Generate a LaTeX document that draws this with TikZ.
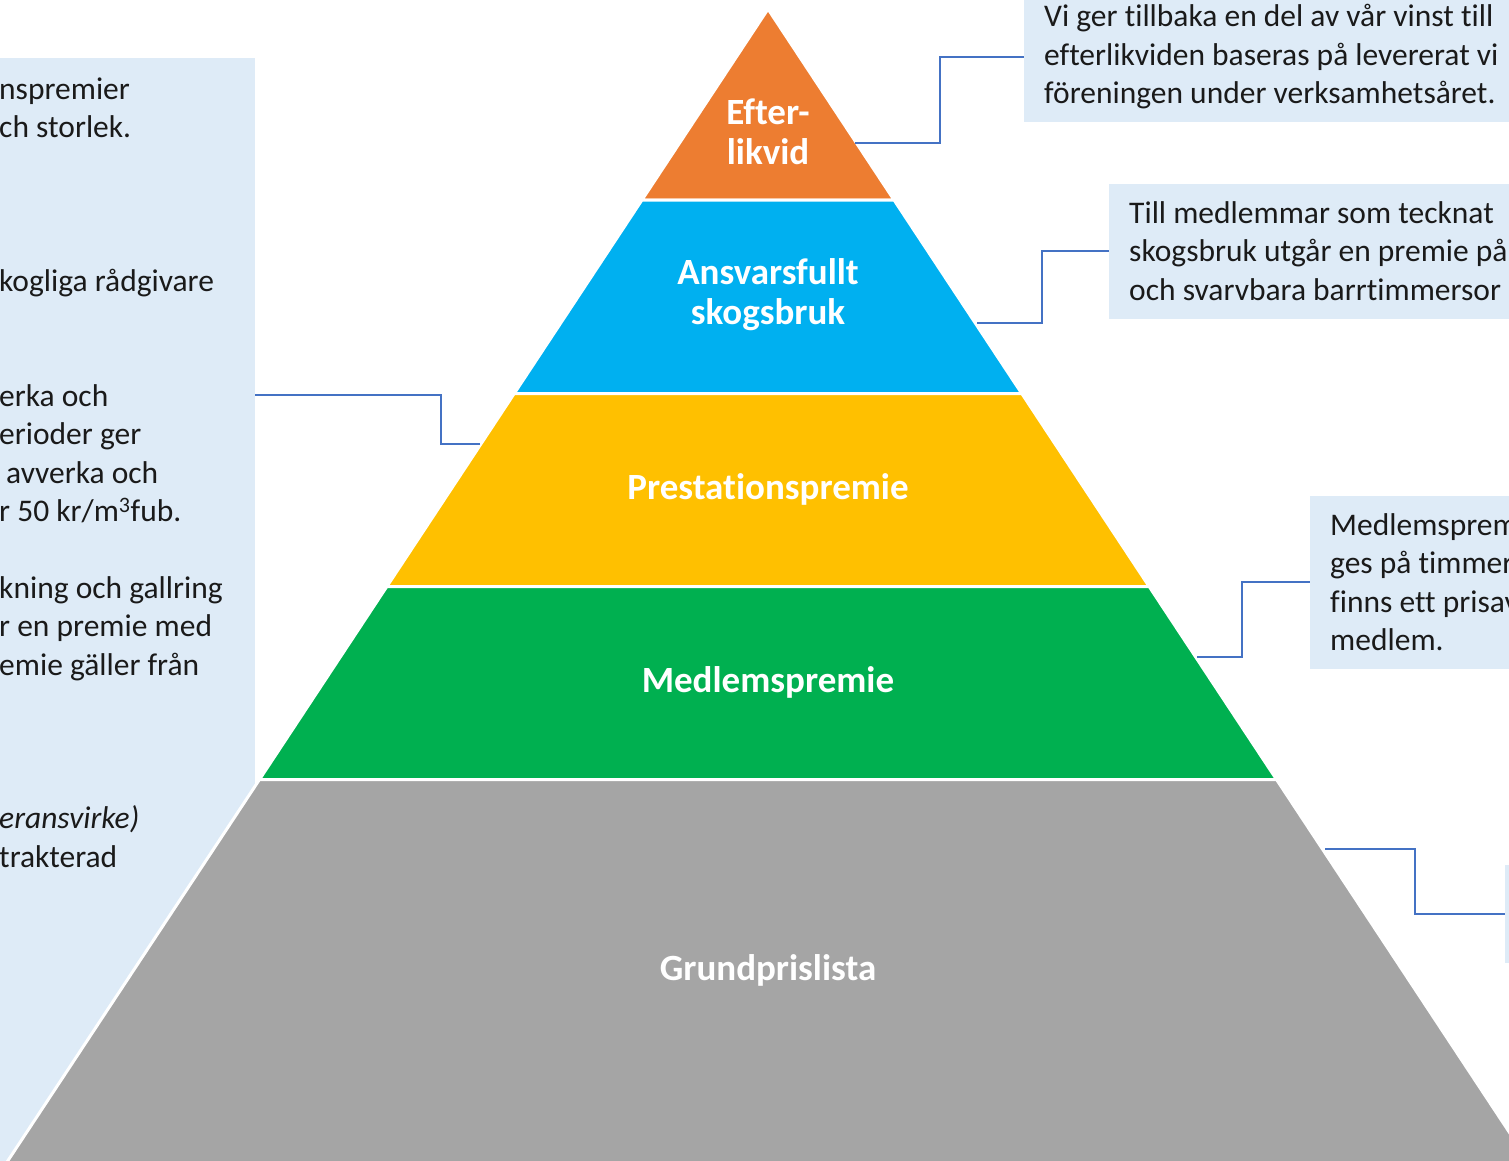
\documentclass[tikz,border=0pt]{standalone}
\usepackage{fontspec}
\setmainfont{Carlito}[Ligatures=NoCommon]
\usetikzlibrary{positioning}

\definecolor{efter}{HTML}{ED7D31}
\definecolor{ansvar}{HTML}{00B0F0}
\definecolor{prest}{HTML}{FFC000}
\definecolor{medlem}{HTML}{00B050}
\definecolor{grund}{HTML}{A5A5A5}
\definecolor{boxbg}{HTML}{DEEBF7}
\definecolor{linkblue}{HTML}{4472C4}
\definecolor{textcol}{HTML}{1A1A1A}

\begin{document}
\begin{tikzpicture}[x=1pt, y=-1pt,
  tier/.style={draw=white, line width=3pt},
  tierlabel/.style={text=white, align=center, inner sep=0pt,
    font=\fontsize{37}{40}\selectfont\bfseries},
  infobox/.style={fill=boxbg, anchor=west, align=left, text width=#1,
    inner xsep=20pt, inner ysep=0pt, text=textcol,
    font=\fontsize{31.5}{38.5}\selectfont,
    execute at begin node={\spaceskip=0pt\xspaceskip=0pt\relax}},
  sidetext/.style={anchor=base west, inner sep=0pt, text=textcol,
    font=\fontsize{31.5}{38.5}\selectfont},
  link/.style={draw=linkblue, line width=1.5pt}]
  \useasboundingbox (0,0) rectangle (1509,1160);
  \clip (0,0) rectangle (1509,1160);

  % left info panel (cut off by the page)
  \fill[boxbg] (-10,58) rectangle (255,1180);
  \coordinate (lb) at (255,395);
  \foreach \n/\x/\t in {0/-1/nspremier, 1/-1/ch storlek., 5/-1/kogliga rådgivare,
      8/-1/erka och, 9/-1/erioder ger, 10/6/avverka och, 11/-1/{r 50 kr/m\textsuperscript{3}fub.},
      13/-1/kning och gallring, 14/-1/r en premie med, 15/-1/emie gäller från,
      19/-1/\textit{eransvirke)}, 20/-1/trakterad}
    \node[sidetext] (lt\n) at (\x,{99+38.4*\n}) {\t};

  % pyramid tiers
  \foreach \ya/\yb/\c in {9/200/efter, 200/393.5/ansvar, 393.5/586.5/prest,
      586.5/779.5/medlem, 779.5/1175/grund}
    \filldraw[tier, fill=\c] ({768-0.66*(\ya-9)},\ya) -- ({768+0.66*(\ya-9)},\ya)
      -- ({768+0.66*(\yb-9)},\yb) -- ({768-0.66*(\yb-9)},\yb) -- cycle;

  \node[tierlabel] (t1) at (768,132) {Efter-\\likvid};
  \node[tierlabel] (t2) at (768,295) {Ansvarsfullt\\skogsbruk};
  \node[tierlabel] (t3) at (768,489) {Prestationspremie};
  \node[tierlabel] (t4) at (768,682) {Medlemspremie};
  \node[tierlabel] (t5) at (768,970) {Grundprislista};

  % points on the pyramid edges
  \coordinate (e1) at (855,143);
  \coordinate (e2) at (977,323);
  \coordinate (e3) at (1197,657);
  \coordinate (e4) at (1325,849);
  \coordinate (w3) at (480,444);

  % right info boxes
  \node[infobox=560pt, minimum height=130pt] (box1) at (1024,57)
    {Vi ger tillbaka en del av vår vinst till\\efterlikviden baseras på levererat vi\\föreningen under verksamhetsåret.};
  \node[infobox=560pt, minimum height=135pt] (box2) at (1109,251)
    {Till medlemmar som tecknat\\skogsbruk utgår en premie på\\och svarvbara barrtimmersor};
  \node[infobox=560pt, minimum height=173pt] (box3) at (1310,582)
    {Medlemsprem\\ges på timmer\\finns ett prisav\\medlem.};
  \node[infobox=200pt, minimum height=98pt] (box4) at (1505,914) {};

  \draw[link] (e1) -- ++(85,0) |- (box1.west);
  \draw[link] (e2) -- ++(65,0) |- (box2.west);
  \draw[link] (e3) -- ++(45,0) |- (box3.west);
  \draw[link] (e4) -- ++(90,0) |- (box4.west);
  \draw[link] (w3) -- ++(-39,0) |- (lb);
\end{tikzpicture}
\end{document}
